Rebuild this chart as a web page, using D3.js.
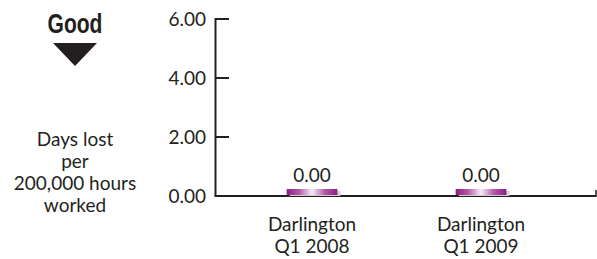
<!DOCTYPE html>
<html>
<head>
<meta charset="utf-8">
<script src="https://cdn.jsdelivr.net/npm/d3@7"></script>
<style>
  body { margin: 0; background: #fff; }
  text { font-family: Lato, "Open Sans", sans-serif; fill: #231f20; }
</style>
</head>
<body>
<div id="chart"></div>
<script>
// data
var categories = ["Darlington Q1 2008", "Darlington Q1 2009"];
var catLines = [["Darlington", "Q1 2008"], ["Darlington", "Q1 2009"]];
var values = [0.00, 0.00];
var yTicks = [0, 2, 4, 6];
var yTitle = ["Days lost", "per", "200,000 hours", "worked"];

var W = 597, H = 259;
var fs = 19;

var svg = d3.select("#chart").append("svg")
    .attr("width", W)
    .attr("height", H);

var defs = svg.append("defs");
var grad = defs.append("linearGradient")
    .attr("id", "barGrad")
    .attr("x1", "0%").attr("x2", "100%").attr("y1", "0%").attr("y2", "0%");
grad.append("stop").attr("offset", "0%").attr("stop-color", "#8c1d7e");
grad.append("stop").attr("offset", "25%").attr("stop-color", "#b65aa9");
grad.append("stop").attr("offset", "50%").attr("stop-color", "#f6eef5");
grad.append("stop").attr("offset", "75%").attr("stop-color", "#b65aa9");
grad.append("stop").attr("offset", "100%").attr("stop-color", "#8c1d7e");

var y = d3.scaleLinear().domain([0, 6]).range([196, 19]);
var x = d3.scaleBand().domain(categories)
    .range([227.5, 565.5])
    .paddingInner(0.7)
    .paddingOuter(0.35);

// y axis line + ticks (ticks point inward)
svg.append("line")
    .attr("x1", 215.5).attr("x2", 215.5)
    .attr("y1", y(6) - 1).attr("y2", y(0))
    .attr("stroke", "#231f20").attr("stroke-width", 2);

svg.selectAll(".ytick").data(yTicks).enter().append("line")
    .attr("x1", 215.5).attr("x2", 229)
    .attr("y1", function(d){ return y(d); })
    .attr("y2", function(d){ return y(d); })
    .attr("stroke", "#231f20").attr("stroke-width", 2);

svg.selectAll(".ylab").data(yTicks).enter().append("text")
    .attr("x", 206)
    .attr("y", function(d){ return y(d) + 7; })
    .attr("text-anchor", "end")
    .attr("font-size", fs)
    .text(function(d){ return d.toFixed(2); });

// x axis
svg.append("line")
    .attr("x1", 214.5).attr("x2", 596)
    .attr("y1", y(0)).attr("y2", y(0))
    .attr("stroke", "#231f20").attr("stroke-width", 2);
svg.append("line")
    .attr("x1", 596).attr("x2", 596)
    .attr("y1", y(0) + 1).attr("y2", y(0) - 6)
    .attr("stroke", "#231f20").attr("stroke-width", 1.5);

// bars (zero values drawn as a thin sliver)
var bars = svg.selectAll(".bar").data(values).enter().append("g");

bars.append("rect")
    .attr("x", function(d, i){ return x(categories[i]) + 3; })
    .attr("y", function(d){ return Math.min(y(d), y(0) - 6) + 1; })
    .attr("width", x.bandwidth())
    .attr("height", function(d){ return Math.max(y(0) - y(d), 6) - 1; })
    .attr("fill", "#cfcfcf");

bars.append("rect")
    .attr("x", function(d, i){ return x(categories[i]); })
    .attr("y", function(d){ return Math.min(y(d), y(0) - 6) - 1; })
    .attr("width", x.bandwidth())
    .attr("height", function(d){ return Math.max(y(0) - y(d), 6); })
    .attr("fill", "url(#barGrad)");

bars.append("text")
    .attr("x", function(d, i){ return x(categories[i]) + x.bandwidth() / 2; })
    .attr("y", function(d){ return Math.min(y(d), y(0) - 6) - 8; })
    .attr("text-anchor", "middle")
    .attr("font-size", fs)
    .text(function(d){ return d.toFixed(2); });

// category labels
var cl = svg.selectAll(".xlab").data(catLines).enter().append("text")
    .attr("text-anchor", "middle")
    .attr("font-size", fs);
cl.selectAll("tspan").data(function(d, i){ return d.map(function(s){ return {s: s, i: i}; }); })
    .enter().append("tspan")
    .attr("x", function(d){ return x(categories[d.i]) + x.bandwidth() / 2; })
    .attr("y", function(d, j){ return 231 + j * 22; })
    .text(function(d){ return d.s; });

// "Good" indicator, condensed bold
svg.append("text")
    .attr("transform", "translate(75,33) scale(0.78,1)")
    .attr("text-anchor", "middle")
    .attr("font-size", 27)
    .attr("font-weight", "bold")
    .style("font-family", "'Liberation Sans', Arial, sans-serif")
    .text("Good");

svg.append("path")
    .attr("d", "M53,43 L97,43 L75,66 Z")
    .attr("fill", "#231f20");

// y title
svg.selectAll(".ytitle").data(yTitle).enter().append("text")
    .attr("x", 75)
    .attr("y", function(d, i){ return 146 + i * 22; })
    .attr("text-anchor", "middle")
    .attr("font-size", fs)
    .text(function(d){ return d; });
</script>
</body>
</html>
